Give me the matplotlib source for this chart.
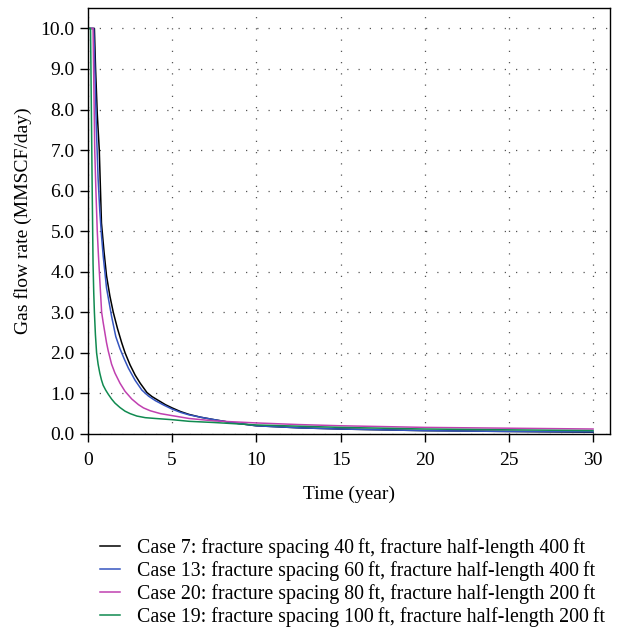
import matplotlib
matplotlib.use("Agg")
import matplotlib.pyplot as plt

plt.rcParams["font.family"] = ["Liberation Serif", "DejaVu Serif"]

# time (year) and gas rate (MMSCF/day) for each case
t_case7 = [0, 0, 0.38, 0.45, 0.55, 0.67, 0.8, 0.95, 1.1, 1.3, 1.5, 1.75, 2.0,
           2.2, 2.5, 2.8, 3.1, 3.5, 3.8, 4.2, 4.6, 5.0, 5.5, 6.0, 6.7, 7.5,
           8.5, 10, 12.5, 15, 20, 25, 30]
q_case7 = [0, 10, 10, 9.0, 7.9, 7.0, 5.2, 4.5, 3.9, 3.4, 3.0, 2.6, 2.25,
           2.0, 1.7, 1.45, 1.25, 1.02, 0.92, 0.82, 0.72, 0.64, 0.55, 0.48,
           0.41, 0.35, 0.28, 0.2, 0.15, 0.12, 0.08, 0.06, 0.04]

t_case13 = [0, 0, 0.34, 0.42, 0.5, 0.6, 0.7, 0.8, 0.9, 1.0, 1.1, 1.25, 1.4,
            1.65, 1.9, 2.15, 2.4, 2.8, 3.2, 3.6, 4.0, 4.5, 5.0, 5.5, 6.0, 6.7,
            7.5, 8.5, 10, 12.5, 15, 20, 25, 30]
q_case13 = [0, 10, 10, 8.8, 7.5, 6.3, 5.5, 4.9, 4.4, 4.0, 3.6, 3.25, 2.9,
            2.4, 2.1, 1.85, 1.62, 1.32, 1.08, 0.93, 0.82, 0.71, 0.61, 0.53,
            0.47, 0.41, 0.35, 0.28, 0.2, 0.15, 0.12, 0.08, 0.06, 0.05]

t_case20 = [0, 0, 0.3, 0.35, 0.4, 0.47, 0.55, 0.62, 0.7, 0.81, 0.9, 1.0, 1.1,
            1.2, 1.4, 1.6, 1.9, 2.2, 2.6, 3.0, 3.3, 3.7, 4.3, 5.0, 6.0, 7.5,
            10, 12.5, 15, 20, 25, 30]
q_case20 = [0, 10, 10, 8.5, 7.0, 6.0, 5.0, 4.4, 3.8, 3.0, 2.75, 2.5, 2.25,
            2.05, 1.72, 1.5, 1.25, 1.05, 0.86, 0.72, 0.64, 0.57, 0.5, 0.45,
            0.38, 0.32, 0.27, 0.23, 0.2, 0.16, 0.14, 0.12]

t_case19 = [0, 0, 0.15, 0.25, 0.3, 0.34, 0.38, 0.44, 0.51, 0.6, 0.7, 0.8, 0.9,
            1.05, 1.2, 1.4, 1.6, 1.9, 2.2, 2.5, 2.9, 3.4, 4.0, 5.0, 6.0, 7.5,
            10, 12.5, 15, 20, 25, 30]
q_case19 = [0, 10, 10, 6.0, 4.2, 3.5, 3.0, 2.45, 2.0, 1.72, 1.5, 1.33, 1.2,
            1.08, 0.98, 0.86, 0.76, 0.65, 0.56, 0.5, 0.44, 0.4, 0.38, 0.35,
            0.31, 0.28, 0.22, 0.19, 0.16, 0.12, 0.1, 0.08]

labels = [
    "Case 7: fracture spacing 40\u2009ft, fracture half-length 400\u2009ft",
    "Case 13: fracture spacing 60\u2009ft, fracture half-length 400\u2009ft",
    "Case 20: fracture spacing 80\u2009ft, fracture half-length 200\u2009ft",
    "Case 19: fracture spacing 100\u2009ft, fracture half-length 200\u2009ft",
]
colors = ["#000000", "#3555c0", "#c040b0", "#108a50"]

fig = plt.figure(figsize=(6.4, 6.27), dpi=100)
ax = fig.add_axes([0.1375, 0.308, 0.8155, 0.679])

series = [(t_case7, q_case7), (t_case13, q_case13),
          (t_case20, q_case20), (t_case19, q_case19)]
for (t, q), c, lab in zip(series, colors, labels):
    ax.plot(t, q, color=c, linewidth=1.1, label=lab)

ax.set_xlim(0, 31)
ax.set_ylim(0, 10.5)
ax.set_xticks(range(0, 31, 5))
ax.set_yticks([i * 1.0 for i in range(11)])
ax.set_yticklabels([f"{i:.1f}" for i in range(11)])
ax.tick_params(direction="out", length=6, width=1, labelsize=14)
ax.tick_params(axis="x", pad=7)
ax.grid(True, color="#555555", linestyle=(0, (1, 8)), linewidth=0.9)

for s in ax.spines.values():
    s.set_linewidth(1.0)

ax.set_xlabel("Time (year)", fontsize=14, labelpad=12)
ax.set_ylabel("Gas flow rate (MMSCF/day)", fontsize=14, labelpad=6)

fig.legend(loc="upper left", bbox_to_anchor=(0.144, 0.154), frameon=False,
           fontsize=14.3, handlelength=1.0, handletextpad=0.85,
           labelspacing=0.15, borderaxespad=0)

fig.savefig("out.png", dpi=100)
